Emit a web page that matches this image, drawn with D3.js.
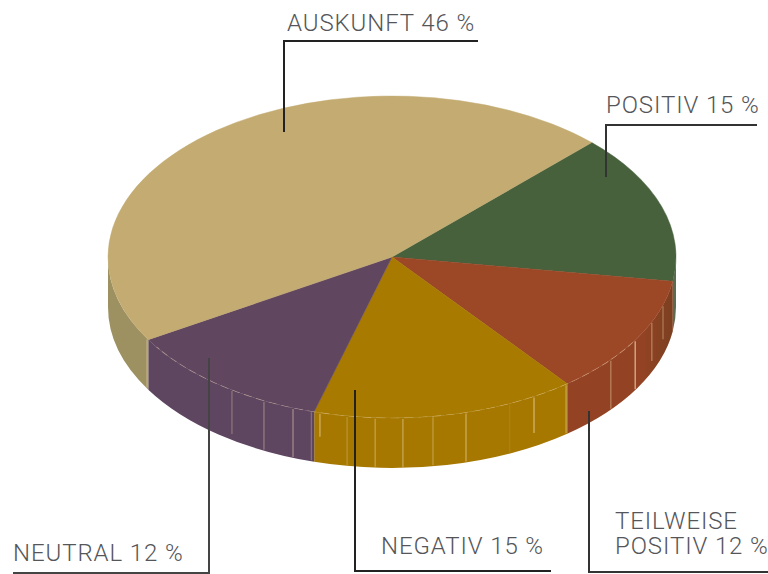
<!DOCTYPE html>
<meta charset="utf-8">
<style>
  html, body { margin: 0; background: #fff; }
  text { font-family: Roboto, "Liberation Sans", sans-serif; font-weight: 300; font-size: 24px; letter-spacing: 0.9px; fill: #55565a; }
</style>

<body>
  <script src="https://d3js.org/d3.v7.min.js"></script>
  <script>
    // slices, clockwise starting at the positiv/auskunft edge
    var categories = ["POSITIV", "TEILWEISE POSITIV", "NEGATIV", "NEUTRAL", "AUSKUNFT"];
    var values = [15, 12, 15, 12, 46];
    var topColors = ["#46613c", "#9c4726", "#a87a00", "#614660", "#c3ab72"];
    var sideColors = ["#5b6b50", "#934323", "#a67800", "#5e4560", "#9d9162"];

    var width = 768, height = 574;
    var cx = 392, cy = 257, rx = 284, ry = 161, depth = 50;
    var k = ry / rx;
    var rad = Math.PI / 180;
    var startDeg = 44.7;

    var svg = d3.select("body").append("svg")
      .attr("width", width)
      .attr("height", height)
      .style("display", "block");

    var pie = d3.pie().sort(null)
      .startAngle(startDeg * rad)
      .endAngle((startDeg + 360) * rad);
    var slices = pie(values);

    var arc = d3.arc().innerRadius(0).outerRadius(rx);

    // everything in the disc is drawn as a circle and squashed
    var disc = svg.append("g")
      .attr("transform", "translate(" + cx + "," + cy + ") scale(1," + k + ")");

    // d3.path angles start at east, pie angles at north
    function wall(a0, a1) {
      var p = d3.path();
      var s = a0 - Math.PI / 2, e = a1 - Math.PI / 2, off = depth / k;
      p.arc(0, 0, rx, s, e);
      p.arc(0, off, rx, e, s, true);
      p.closePath();
      return p.toString();
    }

    // only the front half of the rim shows
    var front0 = 90 * rad, front1 = 270 * rad;
    slices.forEach(function(d, i) {
      for (var turn = 0; turn < 2; turn++) {
        var a0 = Math.max(d.startAngle - turn * 2 * Math.PI, front0);
        var a1 = Math.min(d.endAngle - turn * 2 * Math.PI, front1);
        if (a1 > a0) {
          disc.append("path").attr("d", wall(a0, a1)).attr("fill", sideColors[i]);
        }
      }
    });

    // darker band where the wall turns away on the right
    var defs = svg.append("defs");
    var shade = defs.append("linearGradient").attr("id", "shade");
    shade.append("stop").attr("offset", 0).attr("stop-color", "#4d3a1c").attr("stop-opacity", 0);
    shade.append("stop").attr("offset", 1).attr("stop-color", "#4d3a1c").attr("stop-opacity", 0.35);
    disc.append("path").attr("d", wall(98.9 * rad, 118 * rad)).attr("fill", "url(#shade)");

    disc.selectAll(".top")
      .data(slices)
      .enter().append("path")
      .attr("class", "top")
      .attr("d", arc)
      .attr("fill", function(d, i) { return topColors[i]; })
      .attr("stroke", function(d, i) { return topColors[i]; })
      .attr("stroke-width", 0.6);

    // light seams on the wall: [angle, opacity, fraction of the height]
    var seams = [
      [239.6, 0.5, 1], [214.3, 0.35, 0.9], [206.8, 0.4, 1], [200.4, 0.5, 1],
      [196.5, 0.3, 1], [194.7, 0.6, 0.5], [189.1, 0.3, 1], [183.4, 0.45, 1],
      [177.8, 0.5, 1], [171.7, 0.4, 1], [164.9, 0.55, 1], [155.5, 0.12, 1],
      [150, 0.65, 0.75], [142.2, 0.5, 1],
      [129.6, 0.45, 1], [121.1, 0.8, 1], [113.8, 0.45, 0.8], [107.4, 0.4, 0.7]
    ];
    var flat = svg.append("g").attr("transform", "translate(" + cx + "," + cy + ")");
    flat.selectAll(".seam")
      .data(seams)
      .enter().append("line")
      .attr("class", "seam")
      .attr("x1", function(d) { return rx * Math.sin(d[0] * rad); })
      .attr("x2", function(d) { return rx * Math.sin(d[0] * rad); })
      .attr("y1", function(d) { return -ry * Math.cos(d[0] * rad) + 1; })
      .attr("y2", function(d) { return -ry * Math.cos(d[0] * rad) + depth * d[2] - 1; })
      .attr("stroke", "#f0d8b0")
      .attr("stroke-width", 1.2)
      .attr("stroke-opacity", function(d) { return d[1]; });

    // dashed highlight along the rim
    var rim = d3.path();
    rim.arc(0, 0, rx, (122 - 90) * rad, (236 - 90) * rad);
    disc.append("path")
      .attr("d", rim.toString())
      .attr("fill", "none")
      .attr("stroke", "#f0d8b0")
      .attr("stroke-opacity", 0.45)
      .attr("stroke-width", 1.1)
      .attr("stroke-dasharray", "9 5");

    // leader lines and labels
    var leaders = [
      { d: "M284,132V41H478", c: "#222" },
      { d: "M606,177V125H757", c: "#333" },
      { d: "M209,358V573H13", c: "#444" },
      { d: "M355,390V571H551", c: "#222" },
      { d: "M589,411V572H768", c: "#333" }
    ];
    svg.selectAll(".leader")
      .data(leaders)
      .enter().append("path")
      .attr("class", "leader")
      .attr("d", function(d) { return d.d; })
      .attr("fill", "none")
      .attr("stroke", function(d) { return d.c; })
      .attr("stroke-width", 2);

    var labels = [
      { lines: [categories[4] + " " + values[4] + " %"], x: 287, y: 31 },
      { lines: [categories[0] + " " + values[0] + " %"], x: 606, y: 113 },
      { lines: [categories[3] + " " + values[3] + " %"], x: 13, y: 561 },
      { lines: [categories[2] + " " + values[2] + " %"], x: 381, y: 554 },
      { lines: ["TEILWEISE", "POSITIV " + values[1] + " %"], x: 615, y: 529 }
    ];
    svg.selectAll(".label")
      .data(labels)
      .enter().append("text")
      .attr("class", "label")
      .attr("y", function(d) { return d.y; })
      .each(function(d) {
        d3.select(this).selectAll("tspan")
          .data(d.lines)
          .enter().append("tspan")
          .attr("x", d.x)
          .attr("dy", function(l, i) { return i ? 25 : 0; })
          .text(function(l) { return l; });
      });
  </script>
</body>
